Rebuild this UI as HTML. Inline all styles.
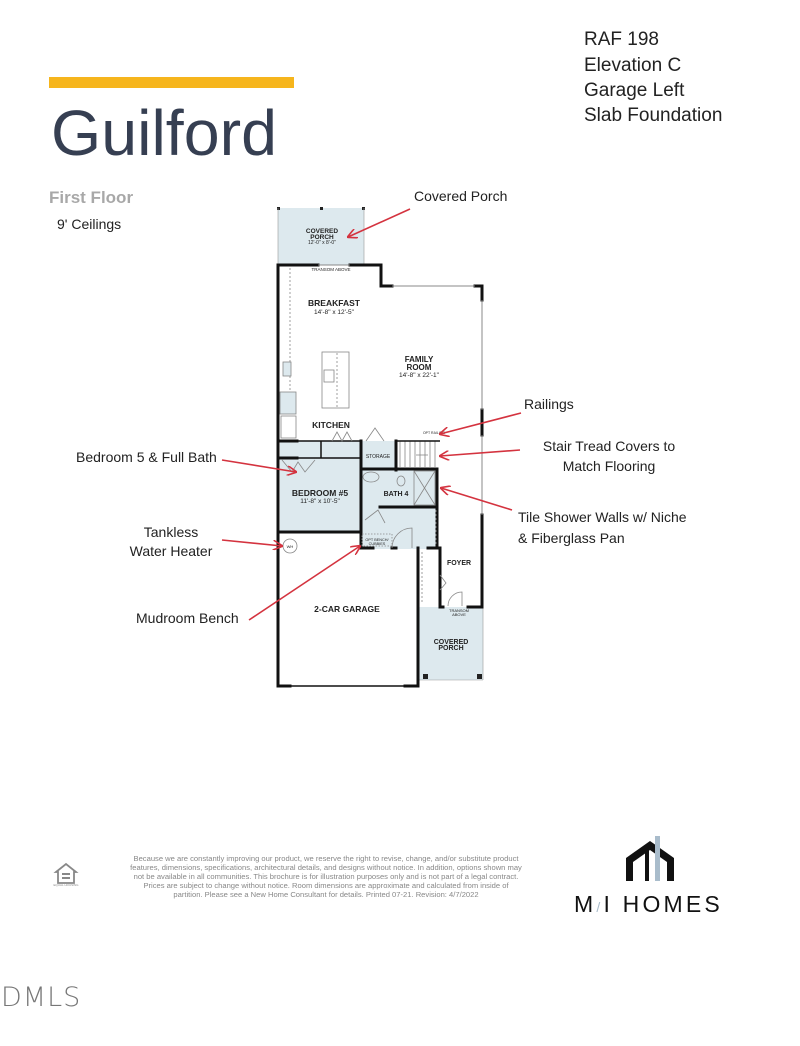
<!DOCTYPE html>
<html><head><meta charset="utf-8"><style>
html,body{margin:0;padding:0;background:#fff;}
svg{display:block;}
</style></head><body>
<svg width="800" height="1046" viewBox="0 0 800 1046" xmlns="http://www.w3.org/2000/svg" font-family="Liberation Sans, sans-serif">
<defs>
<marker id="ah" markerWidth="10" markerHeight="10" refX="9" refY="5" orient="auto" markerUnits="userSpaceOnUse">
<path d="M0,0 L10,5 L0,10" fill="none" stroke="#d4333f" stroke-width="1.6"/>
</marker>
</defs>
<rect width="800" height="1046" fill="#fff"/>
<rect x="49" y="77" width="245" height="11" fill="#f6b51c"/>
<text x="51" y="155" font-size="64" fill="#363f52" textLength="226" lengthAdjust="spacingAndGlyphs">Guilford</text>
<text x="49" y="203" font-size="17" font-weight="bold" fill="#a8a8a8">First Floor</text>
<text x="57" y="229" font-size="14" fill="#222">9' Ceilings</text>
<g font-size="19" fill="#222">
<text x="584" y="45">RAF 198</text>
<text x="584" y="71">Elevation C</text>
<text x="584" y="96">Garage Left</text>
<text x="584" y="121">Slab Foundation</text>
</g>

<g fill="#dde9ee">
<rect x="278" y="208" width="86" height="57"/>
<rect x="280" y="441" width="81" height="91"/>
<rect x="361" y="441" width="35" height="29"/>
<rect x="361" y="469" width="75" height="80"/>
<rect x="418" y="607" width="65" height="73"/>
<rect x="324" y="441" width="37" height="17"/>
</g>
<g fill="#222">
<rect x="277" y="207" width="3" height="3"/><rect x="320" y="207" width="3" height="3"/><rect x="362" y="207" width="3" height="3"/>
<rect x="423" y="674" width="5" height="5"/><rect x="477" y="674" width="5" height="5"/>
</g>
<g stroke="#999" stroke-width="0.6" fill="none">
<line x1="278" y1="208" x2="278" y2="265"/><line x1="364" y1="208" x2="364" y2="265"/>
<line x1="418" y1="680" x2="483" y2="680"/><line x1="483" y1="607" x2="483" y2="680"/>
</g>
<g stroke="#111" stroke-width="3" fill="none" stroke-linecap="square">
<path d="M318,265 L278,265 L278,686 L290,686"/>
<path d="M350,265 L381,265 L381,286 L392,286"/>
<path d="M475,286 L482,286 L482,300"/>
<path d="M482,410 L482,435"/>
<path d="M482,515 L482,607 L468,607"/>
<path d="M278,441 L297,441"/>
<path d="M278,458 L297,458"/>
<path d="M361,441 L361,532 L278,532"/>
<path d="M361,469 L437,469 L437,548 L428,548"/>
<path d="M380,507 L437,507"/>
<path d="M361,532 L361,548 L373,548"/>
<path d="M392,548 L396,548"/>
<path d="M418,548 L418,686 L405,686"/>
<path d="M440,548 L440,607 L443,607"/>
<path d="M418,607 L418,686"/>
<path d="M396,441 L396,470"/>
</g>
<g stroke="#111" stroke-width="1.5" fill="none">
<line x1="278" y1="686" x2="418" y2="686"/>
<line x1="297" y1="441" x2="361" y2="441"/>
<line x1="297" y1="458" x2="361" y2="458"/>
<line x1="321" y1="441" x2="321" y2="458"/>
<line x1="392" y1="286" x2="475" y2="286" stroke="#888" stroke-width="1"/>
<line x1="482" y1="300" x2="482" y2="410" stroke="#888" stroke-width="1"/>
<line x1="482" y1="435" x2="482" y2="515" stroke="#888" stroke-width="1"/>
<line x1="318" y1="265" x2="350" y2="265" stroke="#888" stroke-width="1"/>
</g>
<g stroke="#888" stroke-width="0.8" fill="none">
<line x1="290" y1="268" x2="290" y2="395" stroke-dasharray="2,2"/>
<rect x="280" y="392" width="16" height="22" fill="#dde9ee"/>
<rect x="281" y="416" width="15" height="22"/>
<rect x="322" y="352" width="27" height="56"/>
<line x1="337" y1="353" x2="337" y2="407" stroke-dasharray="2,2"/>
<rect x="283" y="362" width="8" height="14" fill="#dde9ee"/>
<rect x="324" y="370" width="10" height="12"/>
<path d="M400,441 V467 M405,441 V467 M410,441 V467 M415,441 V467 M420,441 V467 M425,441 V467 M430,441 V467 M435,441 V467"/>
<line x1="396" y1="441" x2="440" y2="441" stroke="#111" stroke-width="1.5"/>
<line x1="416" y1="455" x2="428" y2="455"/>
<rect x="414" y="471" width="21" height="34"/>
<path d="M414,471 L435,505 M435,471 L414,505"/>
<ellipse cx="371" cy="477" rx="8" ry="5"/>
<ellipse cx="401" cy="481" rx="4" ry="5"/>
<line x1="436" y1="510" x2="436" y2="545" stroke-dasharray="2,2"/>
<line x1="422" y1="552" x2="422" y2="604" stroke-dasharray="2,2"/>
<path d="M392,548 A20,20 0 0 1 412,528 L412,548"/>
<path d="M448,606 A14,14 0 0 1 462,592 L462,606"/>
<path d="M365,520 L378,510 L385,523"/>
<path d="M332,441 L337,432 L342,441 L347,432 L352,441"/>
<path d="M366,441 L375,428 L384,441"/>
<path d="M282,460 L292,472 L298,462 L305,472 L315,460"/>
<path d="M440,575 L446,583 L440,590"/>
<circle cx="290" cy="546" r="7"/>
<rect x="362" y="534" width="30" height="12" stroke-dasharray="1.5,1.5"/>
</g>
<g font-weight="bold" fill="#222" text-anchor="middle">
<text x="322" y="233" font-size="6.5">COVERED</text>
<text x="322" y="239" font-size="6.5">PORCH</text>
<text x="322" y="244" font-size="5" font-weight="normal">12'-0" x 8'-0"</text>
<text x="331" y="271" font-size="4.5" font-weight="normal">TRANSOM ABOVE</text>
<text x="334" y="306" font-size="8.5">BREAKFAST</text>
<text x="334" y="314" font-size="6.5" font-weight="normal">14'-8" x 12'-5"</text>
<text x="419" y="362" font-size="8">FAMILY</text>
<text x="419" y="370" font-size="8">ROOM</text>
<text x="419" y="377" font-size="6.5" font-weight="normal">14'-8" x 22'-1"</text>
<text x="331" y="428" font-size="8.5">KITCHEN</text>
<text x="378" y="458" font-size="5" font-weight="normal">STORAGE</text>
<text x="434" y="434" font-size="3.5" font-weight="normal">OPT RAILING</text>
<text x="320" y="496" font-size="8.5">BEDROOM #5</text>
<text x="320" y="503" font-size="6.5" font-weight="normal">11'-8" x 10'-5"</text>
<text x="396" y="496" font-size="7">BATH 4</text>
<text x="377" y="541" font-size="3.8" font-weight="normal">OPT BENCH/</text>
<text x="377" y="545" font-size="3.8" font-weight="normal">CUBBIES</text>
<text x="290" y="548" font-size="4" font-weight="normal">WH</text>
<text x="459" y="565" font-size="7">FOYER</text>
<text x="347" y="612" font-size="8.5">2-CAR GARAGE</text>
<text x="451" y="644" font-size="7">COVERED</text>
<text x="451" y="650" font-size="7">PORCH</text>
<text x="459" y="612" font-size="4" font-weight="normal">TRANSOM</text>
<text x="459" y="616" font-size="4" font-weight="normal">ABOVE</text>
</g>
<g font-size="14" fill="#222">
<text x="414" y="201">Covered Porch</text>
<text x="524" y="409">Railings</text>
<text x="609" y="451" text-anchor="middle">Stair Tread Covers to</text>
<text x="609" y="471" text-anchor="middle">Match Flooring</text>
<text x="76" y="462">Bedroom 5 &amp; Full Bath</text>
<text x="518" y="522">Tile Shower Walls w/ Niche</text>
<text x="518" y="543">&amp; Fiberglass Pan</text>
<text x="171" y="537" text-anchor="middle">Tankless</text>
<text x="171" y="556" text-anchor="middle">Water Heater</text>
<text x="136" y="623">Mudroom Bench</text>
</g>
<g stroke="#d4333f" stroke-width="1.6" fill="none" marker-end="url(#ah)">
<line x1="410" y1="209" x2="348" y2="237"/>
<line x1="521" y1="413" x2="440" y2="434"/>
<line x1="520" y1="450" x2="440" y2="456"/>
<line x1="222" y1="460" x2="296" y2="472"/>
<line x1="512" y1="510" x2="441" y2="488"/>
<line x1="222" y1="540" x2="282" y2="546"/>
<line x1="249" y1="620" x2="360" y2="546"/>
</g>

<g fill="#888" stroke="none">
<path d="M56,872 L66,864 L76,872 L74,872 L74,883 L58,883 L58,872 Z" fill="none" stroke="#888" stroke-width="1.8"/>
<rect x="62" y="873" width="8" height="2"/><rect x="62" y="877" width="8" height="2"/>
<text x="66" y="886" font-size="3" text-anchor="middle">EQUAL HOUSING</text>
</g>
<g font-size="7.6" fill="#888" text-anchor="middle">
<text x="326" y="861">Because we are constantly improving our product, we reserve the right to revise, change, and/or substitute product</text>
<text x="326" y="870">features, dimensions, specifications, architectural details, and designs without notice. In addition, options shown may</text>
<text x="326" y="879">not be available in all communities. This brochure is for illustration purposes only and is not part of a legal contract.</text>
<text x="326" y="888">Prices are subject to change without notice. Room dimensions are approximate and calculated from inside of</text>
<text x="326" y="897">partition. Please see a New Home Consultant for details. Printed 07-21. Revision: 4/7/2022</text>
</g>
<path d="M626,881 L626,858 L650,841 L674,858 L674,881 L667,881 L667,862 L650,850 L633,862 L633,881 Z" fill="#111"/>
<rect x="645" y="847" width="4" height="34" fill="#111"/>
<rect x="655" y="836" width="5" height="45" fill="#a9bccb"/>
<text x="574" y="912" font-size="23" fill="#111" letter-spacing="3.2">M<tspan fill="#a9bccb" font-size="14">/</tspan>I HOMES</text>
<text x="1" y="1006" font-size="27" fill="#777" letter-spacing="1" style="font-family:'DejaVu Sans',sans-serif;font-weight:200">DMLS</text>
</svg>
</body></html>
